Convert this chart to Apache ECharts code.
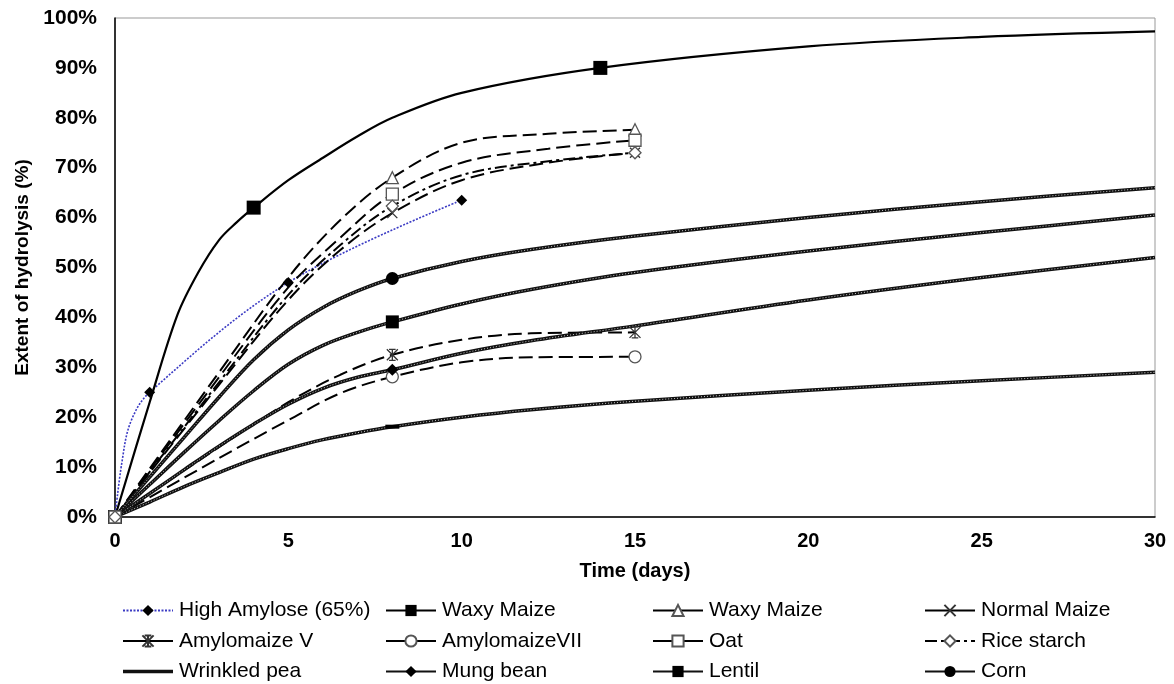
<!DOCTYPE html>
<html>
<head>
<meta charset="utf-8">
<script src="https://cdn.jsdelivr.net/npm/echarts@6/dist/echarts.min.js"></script>
<style>
  html, body { margin: 0; padding: 0; background: #fff; }
  #chart { width: 1174px; height: 684px; }
</style>
</head>
<body>
<div id="chart"></div>
<script>
// ---- Data ----
const xTicks = [0, 5, 10, 15, 20, 25, 30];
const yTicks = [0, 10, 20, 30, 40, 50, 60, 70, 80, 90, 100];

// High Amylose (65%)
const haDays = [0, 0.2, 0.45, 1, 5, 10];
const haY = [0, 11, 19, 25, 47, 63.5];
const haMarks = [0, 1, 5, 10];

// Waxy Maize (solid)
const waxySolidDays = [0, 1, 1.8, 2.4, 3, 3.5, 4, 5, 6, 7, 8, 10, 14, 20, 25, 30];
const waxySolidY = [0, 23, 40.5, 49, 55.5, 59, 62, 67.5, 72, 76.3, 80, 85, 90, 94.3, 96.2, 97.3];
const waxySolidMarks = [0, 4, 14];

// dashed experimental series
const dashDays = [0, 3, 5, 6.5, 8, 10, 12.5, 15];
const dashMarks = [0, 8, 15];
const waxyDashedY = [0, 29, 48, 59.5, 68, 75, 76.8, 77.6];
const oatY = [0, 28, 46, 56, 64.7, 71, 73.8, 75.5];
const riceY = [0, 27, 44.5, 54.5, 62.3, 68.5, 71.3, 73];
const normalMaizeY = [0, 26.5, 43.5, 53.5, 60.9, 67.5, 71, 73];
const amyloDays = [0, 3, 5, 6.5, 8, 10, 12, 15];
const amyloVY = [0, 14, 23, 28.5, 32.5, 35.5, 36.8, 37];
const amyloVIIY = [0, 11.8, 19.4, 24.8, 28.1, 31, 32, 32.1];

// model curves
const modelDays = [0, 1, 2, 3, 4, 5, 6, 7, 8, 10, 12, 15, 20, 25, 30];
const modelMarks = [8];
const wrinkledY = [0, 3, 6.1, 8.9, 11.6, 13.7, 15.5, 16.9, 18.1, 20, 21.5, 23.2, 25.4, 27.3, 29];
const mungY = [0, 4.7, 9.5, 14.2, 18.6, 22.6, 25.8, 28, 29.5, 32.8, 35.3, 38.3, 43.5, 48, 52];
const lentilY = [0, 6.5, 13, 19.3, 25.3, 30.6, 34.4, 37, 39.1, 42.7, 45.6, 49, 53.3, 57, 60.5];
const cornY = [0, 8, 16, 24, 31.5, 37.5, 42, 45.3, 47.8, 51.2, 53.6, 56.3, 60, 63.2, 66];

// ---- Helpers ----
function pts(xs, ys, marks) {
  return xs.map((x, i) => marks.indexOf(x) >= 0 ? [x, ys[i]] : { value: [x, ys[i]], symbol: 'none' });
}
const FONT = 'Liberation Sans, Arial, sans-serif';
const X_PATH = 'path://M0,0L10,10M10,0L0,10';
const STAR_PATH = 'path://M0,0L10,10M10,0L0,10M5,0L5,10M2,0L8,0M2,10L8,10';
const SMOOTH = 0.35;

function expSeries(name, xs, ys, marks, line, sym) {
  return {
    name: name, type: 'line', smooth: SMOOTH,
    data: pts(xs, ys, marks),
    lineStyle: line,
    symbol: sym.symbol, symbolSize: sym.size,
    itemStyle: sym.item,
    showSymbol: true, z: 3
  };
}
const solidBlack = { color: '#000', width: 2.2, type: 'solid' };
const dashed = { color: '#000', width: 2, type: [14, 6] };
const dashDot = { color: '#000', width: 2, type: [12, 4, 3, 4] };
const openItem = { color: '#fff', borderColor: '#555', borderWidth: 1.3 };
const strokeItem = { color: 'transparent', borderColor: '#333', borderWidth: 1.3 };

function modelSeries(name, ys, sym) {
  return [
    {
      name: name, type: 'line', smooth: SMOOTH,
      data: pts(modelDays, ys, modelMarks),
      lineStyle: { color: '#111', width: 3.5 },
      symbol: sym.symbol, symbolSize: sym.size,
      itemStyle: { color: '#000' }, showSymbol: true, z: 3
    },
    {
      name: name, type: 'line', smooth: SMOOTH, silent: true,
      data: modelDays.map((x, i) => [x, ys[i]]),
      lineStyle: { color: '#c8c8c8', width: 1, type: [1, 2] },
      symbol: 'none', z: 3
    }
  ];
}

const series = [
  expSeries('High Amylose (65%)', haDays, haY, haMarks,
    { color: '#3b3bc4', width: 1.6, type: [2, 1.5] },
    { symbol: 'diamond', size: 11, item: { color: '#000' } }),
  expSeries('Waxy Maize', waxySolidDays, waxySolidY, waxySolidMarks, solidBlack,
    { symbol: 'rect', size: 14, item: { color: '#000' } }),
  expSeries('Waxy Maize ', dashDays, waxyDashedY, dashMarks, dashed,
    { symbol: 'triangle', size: 12, item: openItem }),
  expSeries('Normal Maize', dashDays, normalMaizeY, dashMarks, dashed,
    { symbol: X_PATH, size: 10, item: strokeItem }),
  expSeries('Amylomaize V', amyloDays, amyloVY, dashMarks, dashed,
    { symbol: STAR_PATH, size: 11, item: strokeItem }),
  expSeries('AmylomaizeVII', amyloDays, amyloVIIY, dashMarks, dashed,
    { symbol: 'circle', size: 12, item: openItem }),
  expSeries('Oat', dashDays, oatY, dashMarks, dashed,
    { symbol: 'rect', size: 12, item: openItem }),
  expSeries('Rice starch', dashDays, riceY, dashMarks, dashDot,
    { symbol: 'diamond', size: 12, item: openItem }),
  ...modelSeries('Wrinkled pea', wrinkledY, { symbol: 'rect', size: [14, 4] }),
  ...modelSeries('Mung bean', mungY, { symbol: 'diamond', size: 12 }),
  ...modelSeries('Lentil', lentilY, { symbol: 'rect', size: 13 }),
  ...modelSeries('Corn', cornY, { symbol: 'circle', size: 13 })
];

const solidLegend = ['Waxy Maize ', 'Normal Maize', 'Amylomaize V', 'AmylomaizeVII', 'Oat'];
const legendCols = [
  { left: 122, names: ['High Amylose (65%)', 'Amylomaize V', 'Wrinkled pea'] },
  { left: 385, names: ['Waxy Maize', 'AmylomaizeVII', 'Mung bean'] },
  { left: 652, names: ['Waxy Maize ', 'Oat', 'Lentil'] },
  { left: 924, names: ['Normal Maize', 'Rice starch', 'Corn'] }
];
const legends = legendCols.map(c => ({
  orient: 'vertical', left: c.left, top: 600,
  data: c.names.map(n => {
    if (solidLegend.indexOf(n) >= 0) return { name: n, lineStyle: { type: 'solid' } };
    if (n === 'Wrinkled pea') return { name: n, icon: 'path://M0,0L50,0L50,3.5L0,3.5Z', itemStyle: { color: '#111' } };
    return { name: n };
  }),
  itemWidth: 50, itemHeight: 14, itemGap: 9.5, padding: 0,
  formatter: n => n.trim(),
  textStyle: { fontFamily: FONT, fontSize: 21, color: '#000', lineHeight: 21, padding: [0, 0, 0, 1] }
}));

const chart = echarts.init(document.getElementById('chart'), null, { renderer: 'canvas' });
chart.setOption({
  animation: false,
  backgroundColor: '#fff',
  grid: { left: 115, right: 19, top: 18, bottom: 167, show: true, borderColor: '#999', borderWidth: 1 },
  legend: legends,
  xAxis: {
    type: 'value', min: xTicks[0], max: xTicks[xTicks.length - 1], interval: 5,
    name: 'Time (days)', nameLocation: 'middle', nameGap: 44,
    nameTextStyle: { fontFamily: FONT, fontSize: 20, fontWeight: 'bold', color: '#000' },
    axisLine: { lineStyle: { color: '#000', width: 1.5 } },
    axisTick: { show: false }, splitLine: { show: false },
    axisLabel: { fontFamily: FONT, fontSize: 20, fontWeight: 'bold', color: '#000', margin: 14 }
  },
  yAxis: {
    type: 'value', min: yTicks[0], max: yTicks[yTicks.length - 1], interval: 10,
    name: 'Extent of hydrolysis (%)', nameLocation: 'middle', nameGap: 82,
    nameTextStyle: { fontFamily: FONT, fontSize: 19, fontWeight: 'bold', color: '#000' },
    axisLine: { lineStyle: { color: '#000', width: 1.5 } },
    axisTick: { show: false }, splitLine: { show: false },
    axisLabel: { fontFamily: FONT, fontSize: 21, fontWeight: 'bold', color: '#000', margin: 18,
      formatter: '{value}%' }
  },
  series: series
});
</script>
</body>
</html>
